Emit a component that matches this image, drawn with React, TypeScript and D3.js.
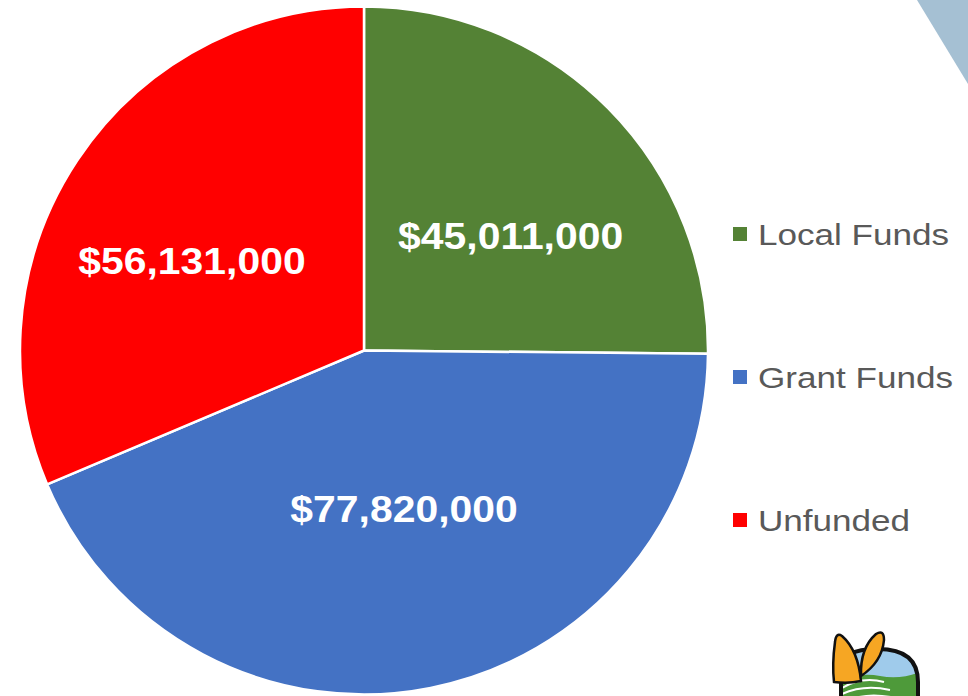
import React, { useEffect, useRef } from 'react';
import * as d3 from 'd3';

const categories = ['Local Funds', 'Grant Funds', 'Unfunded'];
const amounts = [45011000, 77820000, 56131000];
const colors = ['#548235', '#4472C4', '#FF0000'];

const App = () => {
  const svgRef = useRef<SVGSVGElement | null>(null);

  useEffect(() => {
    document.body.style.margin = '0';
    const svg = d3.select(svgRef.current);
    svg.selectAll('*').remove();

    const width = 968;
    const height = 696;
    const cx = 364;
    const cy = 350.5;
    const radius = 344;
    const stretch = 1.12; // text in the slide is stretched sideways

    svg.attr('width', width).attr('height', height);

    svg.append('rect').attr('width', width).attr('height', height).attr('fill', '#ffffff');

    // slide decoration, top right
    svg.append('path')
      .attr('d', `M917,0 L${width},0 L${width},84 Z`)
      .attr('fill', '#A5C0D3');

    const data = categories.map((c, i) => ({ name: c, value: amounts[i], color: colors[i] }));

    const pie = d3.pie<any>().sort(null).value(d => d.value);
    const arcs = pie(data);

    const arc = d3.arc<any>().innerRadius(0).outerRadius(radius);

    const g = svg.append('g').attr('transform', `translate(${cx},${cy})`);

    g.selectAll('path.slice')
      .data(arcs)
      .enter().append('path')
      .attr('class', 'slice')
      .attr('d', arc)
      .attr('fill', d => d.data.color)
      .attr('stroke', '#ffffff')
      .attr('stroke-width', 2.5)
      .attr('stroke-linejoin', 'round');

    // labels sit on a flattened ring inside the slices
    const rx = radius * 0.6;
    const ry = radius * 0.47;
    const fmt = d3.format('$,');
    g.selectAll('text.label')
      .data(arcs)
      .enter().append('text')
      .attr('class', 'label')
      .attr('transform', d => {
        const mid = (d.startAngle + d.endAngle) / 2;
        const x = Math.sin(mid) * rx;
        const y = -Math.cos(mid) * ry;
        return `translate(${x},${y}) scale(${stretch},1)`;
      })
      .attr('text-anchor', 'middle')
      .attr('dominant-baseline', 'central')
      .style('font-family', '"Liberation Sans", Arial, sans-serif')
      .style('font-weight', 'bold')
      .style('font-size', '36.5px')
      .style('fill', '#ffffff')
      .text(d => fmt(d.data.value));

    // legend
    const legendY = d3.scalePoint<string>().domain(categories).range([234, 520]);
    const legend = svg.append('g');
    const items = legend.selectAll('g.item')
      .data(data)
      .enter().append('g')
      .attr('class', 'item')
      .attr('transform', d => `translate(733,${legendY(d.name)})`);

    items.append('rect')
      .attr('x', 0)
      .attr('y', -7)
      .attr('width', 14)
      .attr('height', 14)
      .attr('fill', d => d.color);

    items.append('text')
      .attr('transform', `translate(25,11) scale(${stretch + 0.05},1)`)
      .style('font-family', '"Liberation Sans", Arial, sans-serif')
      .style('font-size', '30px')
      .style('fill', '#595959')
      .text(d => d.name);

    // logo, bottom right
    const logo = svg.append('g');
    const clipId = 'logo-clip';
    const archPath = 'M841,700 L841,668 Q841,649 878,649 Q918,649 918,682 L918,700';
    logo.append('clipPath').attr('id', clipId)
      .append('path')
      .attr('d', archPath + ' Z');
    const inner = logo.append('g').attr('clip-path', `url(#${clipId})`);
    inner.append('rect').attr('x', 835).attr('y', 640).attr('width', 90).attr('height', 60).attr('fill', '#9FCBEB');
    inner.append('path')
      .attr('d', 'M835,700 L835,682 Q858,672 880,676 Q900,680 920,672 L920,700 Z')
      .attr('fill', '#4E9A3A');
    inner.append('path')
      .attr('d', 'M842,688 Q862,676 884,682 M842,694 Q864,684 890,690 M850,700 Q868,692 896,698')
      .attr('fill', 'none')
      .attr('stroke', '#ffffff')
      .attr('stroke-width', 2);
    logo.append('path')
      .attr('d', archPath)
      .attr('fill', 'none')
      .attr('stroke', '#111111')
      .attr('stroke-width', 4);
    // butterfly wings
    logo.append('path')
      .attr('d', 'M861,681 Q858,650 842,636 Q836,632 835,642 Q832,664 834,682 Q848,684 861,681 Z')
      .attr('fill', '#F6A623')
      .attr('stroke', '#111111')
      .attr('stroke-width', 2.5);
    logo.append('path')
      .attr('d', 'M861,676 Q860,648 876,634 Q884,629 884,640 Q882,662 861,676 Z')
      .attr('fill', '#F6A623')
      .attr('stroke', '#111111')
      .attr('stroke-width', 2.5);
  }, []);

  return (
    <div style={{ width: 968, height: 696, overflow: 'hidden' }}>
      <svg ref={svgRef} style={{ display: 'block' }}></svg>
    </div>
  );
};

export default App;
